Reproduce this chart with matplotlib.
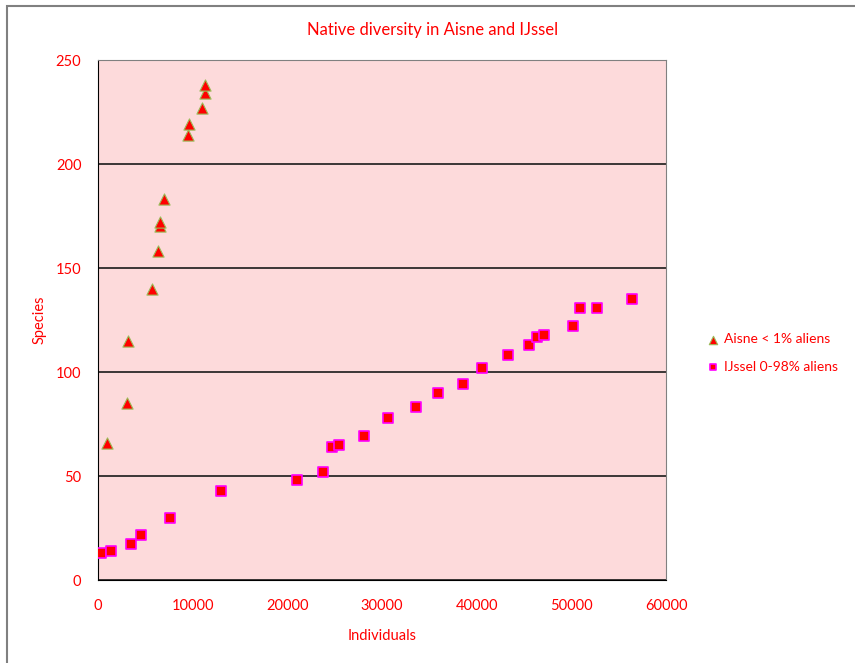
import matplotlib.pyplot as plt
from matplotlib.patches import Rectangle

# Aisne (< 1% aliens)
aisne_ind = [980, 3060, 3200, 5735, 6370, 6515, 6580, 6940, 9475, 9610, 10950, 11330, 11330]
aisne_sp = [66, 85, 115, 140, 158, 170, 172, 183, 214, 219, 227, 234, 238]

# IJssel (0-98% aliens)
ijssel_ind = [317, 1373, 3450, 4540, 7570, 12960, 21020, 23770, 24720, 25460, 28060,
              30600, 33590, 35950, 38560, 40520, 43270, 45560, 46330, 47110, 50210,
              50910, 52670, 56410]
ijssel_sp = [13, 14, 17.5, 21.5, 30, 43, 48, 52, 64, 65, 69, 78, 83, 90, 94, 102, 108,
             113, 117, 118, 122, 131, 131, 135]

red = '#FF0000'
plt.rcParams['font.family'] = ['Lato', 'DejaVu Sans']

fig = plt.figure(figsize=(8.55, 6.63), dpi=100)
ax = fig.add_axes([98/855, 83/663, 568/855, 520/663])

# outer chart frame
fig.patches.append(Rectangle((7/855, -0.05), 1.0, 1 - 6/663 + 0.05, transform=fig.transFigure,
                             fill=False, edgecolor='#808080', linewidth=1.5))

ax.set_facecolor('#FDDADB')
ax.scatter(aisne_ind, aisne_sp, marker='^', s=65, c=red, edgecolors='#9BBB59',
           linewidths=0.8, label='Aisne < 1% aliens', zorder=3)
ax.scatter(ijssel_ind, ijssel_sp, marker='s', s=45, c=red, edgecolors='#FF00FF',
           linewidths=1.2, label='IJssel 0-98% aliens', zorder=3)

ax.set_xlim(0, 60000)
ax.set_ylim(0, 250)
ax.set_xticks(range(0, 60001, 10000))
ax.set_yticks(range(0, 251, 50))
ax.grid(axis='y', color='#1a1a1a', linewidth=1.2)
ax.set_axisbelow(True)
ax.tick_params(length=0, labelsize=10.5, labelcolor=red)
ax.tick_params(axis='x', pad=14)
ax.tick_params(axis='y', pad=12)
for s in ax.spines.values():
    s.set_color('#808080')
ax.spines['left'].set_color('black')
ax.spines['bottom'].set_color('black')

fig.text(433/855, 1 - 30/663, 'Native diversity in Aisne and IJssel', color=red,
         fontsize=12, ha='center', va='center')
fig.text(40/855, 1 - 320/663, 'Species', color=red, fontsize=10.5, rotation=90,
         ha='center', va='center')
fig.text(382/855, 1 - 636/663, 'Individuals', color=red, fontsize=10.5,
         ha='center', va='center')

leg = fig.legend(loc='center left', bbox_to_anchor=(700/855, 1 - 353/663), frameon=False,
                 fontsize=10, handlelength=1.0, handletextpad=0.3, labelspacing=1.1,
                 markerscale=0.75, borderaxespad=0)
for t in leg.get_texts():
    t.set_color(red)

fig.savefig('out.png', dpi=100)
